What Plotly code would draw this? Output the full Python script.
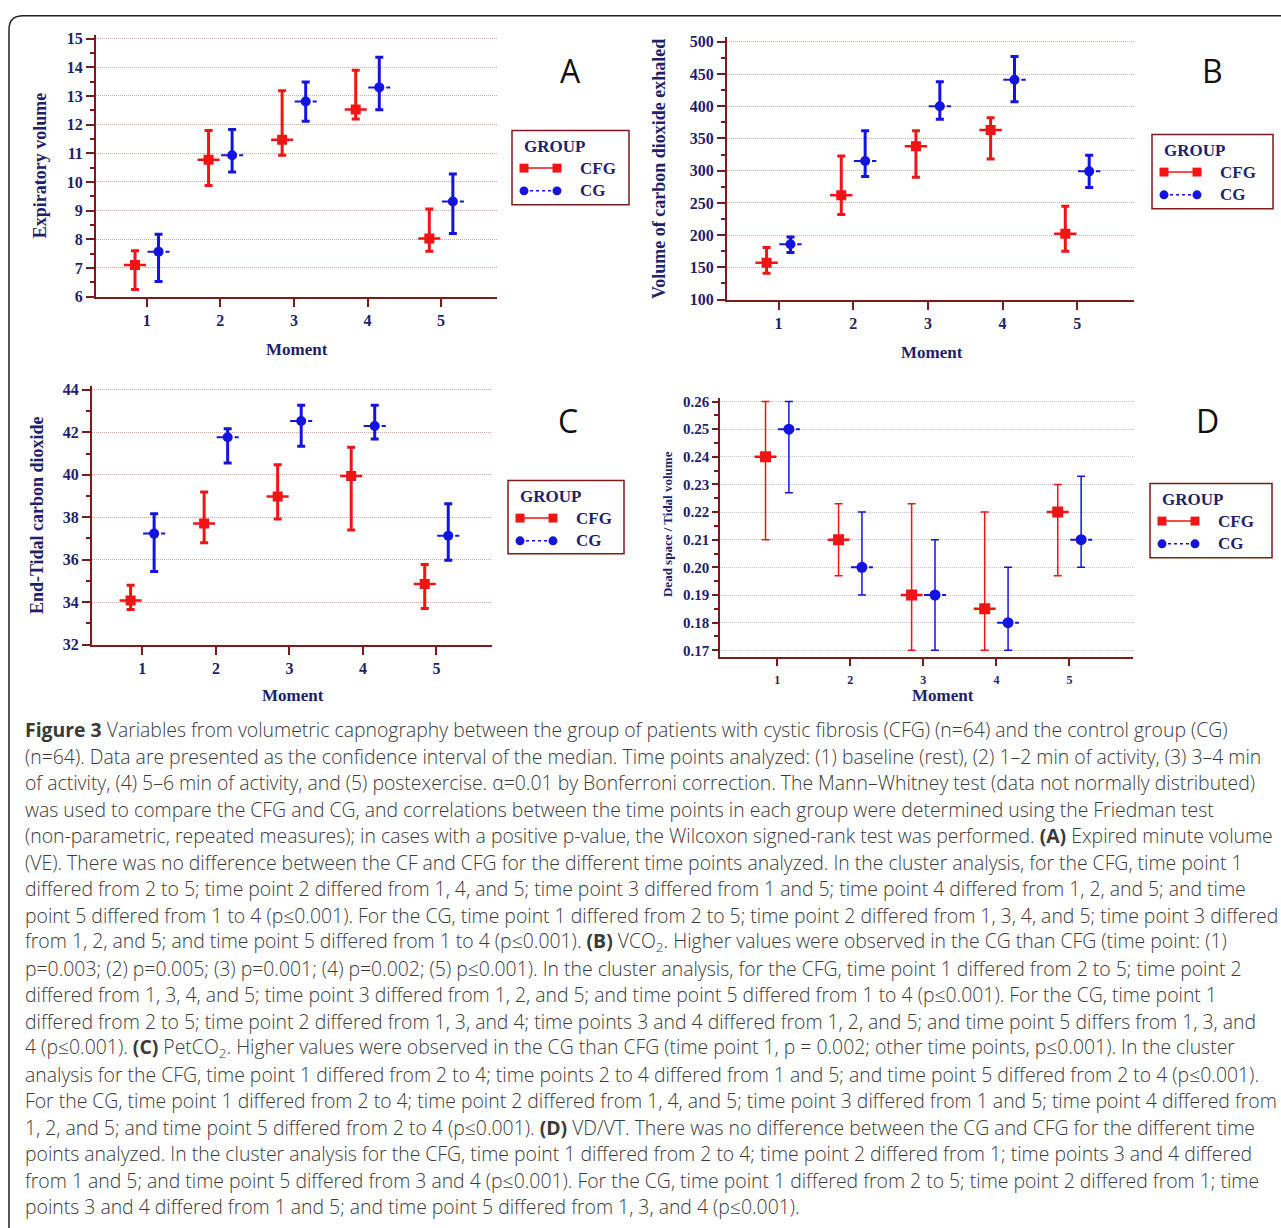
import plotly.graph_objects as go

W, H = 1281, 1228

moments = [1, 2, 3, 4, 5]
tick_labels = ["1", "2", "3", "4", "5"]
group_names = ["CFG", "CG"]

# Panel A - Expiratory volume
a_cfg_med = [7.10, 10.78, 11.47, 12.53, 8.03]
a_cfg_lo = [6.25, 9.88, 10.93, 12.20, 7.58]
a_cfg_hi = [7.60, 11.80, 13.18, 13.90, 9.06]
a_cg_med = [7.57, 10.93, 12.81, 13.30, 9.32]
a_cg_lo = [6.53, 10.35, 12.12, 12.52, 8.20]
a_cg_hi = [8.18, 11.83, 13.49, 14.35, 10.28]

# Panel B - Volume of carbon dioxide exhaled
b_cfg_med = [157, 262, 338, 363, 202]
b_cfg_lo = [141, 232, 290, 318, 175]
b_cfg_hi = [181, 323, 362, 382, 245]
b_cg_med = [186, 315, 400, 441, 299]
b_cg_lo = [173, 291, 380, 407, 274]
b_cg_hi = [197, 362, 438, 477, 324]

# Panel C - End-Tidal carbon dioxide
c_cfg_med = [34.08, 37.70, 38.98, 39.94, 34.86]
c_cfg_lo = [33.66, 36.80, 37.92, 37.40, 33.70]
c_cfg_hi = [34.80, 39.19, 40.47, 41.30, 35.77]
c_cg_med = [37.23, 41.77, 42.53, 42.30, 37.13]
c_cg_lo = [35.44, 40.55, 41.34, 41.69, 35.97]
c_cg_hi = [38.16, 42.17, 43.28, 43.28, 38.63]

# Panel D - Dead space / Tidal volume
d_cfg_med = [0.240, 0.210, 0.190, 0.185, 0.220]
d_cfg_lo = [0.210, 0.197, 0.170, 0.170, 0.197]
d_cfg_hi = [0.260, 0.223, 0.223, 0.220, 0.230]
d_cg_med = [0.250, 0.200, 0.190, 0.180, 0.210]
d_cg_lo = [0.227, 0.190, 0.170, 0.170, 0.200]
d_cg_hi = [0.260, 0.220, 0.210, 0.200, 0.233]

caption_lines = [
    "<b>Figure 3</b> Variables from volumetric capnography between the group of patients with cystic fibrosis (CFG) (n=64) and the control group (CG)",
    "(n=64). Data are presented as the confidence interval of the median. Time points analyzed: (1) baseline (rest), (2) 1–2 min of activity, (3) 3–4 min",
    "of activity, (4) 5–6 min of activity, and (5) postexercise. α=0.01 by Bonferroni correction. The Mann–Whitney test (data not normally distributed)",
    "was used to compare the CFG and CG, and correlations between the time points in each group were determined using the Friedman test",
    "(non-parametric, repeated measures); in cases with a positive p-value, the Wilcoxon signed-rank test was performed. <b>(A)</b> Expired minute volume",
    "(VE). There was no difference between the CF and CFG for the different time points analyzed. In the cluster analysis, for the CFG, time point 1",
    "differed from 2 to 5; time point 2 differed from 1, 4, and 5; time point 3 differed from 1 and 5; time point 4 differed from 1, 2, and 5; and time",
    "point 5 differed from 1 to 4 (p≤0.001). For the CG, time point 1 differed from 2 to 5; time point 2 differed from 1, 3, 4, and 5; time point 3 differed",
    "from 1, 2, and 5; and time point 5 differed from 1 to 4 (p≤0.001). <b>(B)</b> VCO<sub>2</sub>. Higher values were observed in the CG than CFG (time point: (1)",
    "p=0.003; (2) p=0.005; (3) p=0.001; (4) p=0.002; (5) p≤0.001). In the cluster analysis, for the CFG, time point 1 differed from 2 to 5; time point 2",
    "differed from 1, 3, 4, and 5; time point 3 differed from 1, 2, and 5; and time point 5 differed from 1 to 4 (p≤0.001). For the CG, time point 1",
    "differed from 2 to 5; time point 2 differed from 1, 3, and 4; time points 3 and 4 differed from 1, 2, and 5; and time point 5 differs from 1, 3, and",
    "4 (p≤0.001). <b>(C)</b> PetCO<sub>2</sub>. Higher values were observed in the CG than CFG (time point 1, p = 0.002; other time points, p≤0.001). In the cluster",
    "analysis for the CFG, time point 1 differed from 2 to 4; time points 2 to 4 differed from 1 and 5; and time point 5 differed from 2 to 4 (p≤0.001).",
    "For the CG, time point 1 differed from 2 to 4; time point 2 differed from 1, 4, and 5; time point 3 differed from 1 and 5; time point 4 differed from",
    "1, 2, and 5; and time point 5 differed from 2 to 4 (p≤0.001). <b>(D)</b> VD/VT. There was no difference between the CG and CFG for the different time",
    "points analyzed. In the cluster analysis for the CFG, time point 1 differed from 2 to 4; time point 2 differed from 1; time points 3 and 4 differed",
    "from 1 and 5; and time point 5 differed from 3 and 4 (p≤0.001). For the CG, time point 1 differed from 2 to 5; time point 2 differed from 1; time",
    "points 3 and 4 differed from 1 and 5; and time point 5 differed from 1, 3, and 4 (p≤0.001).",
]

RED = "#f01414"
BLUE = "#1414e0"
MAROON = "#7d1a1a"
NAVY = "#1f1f6b"
SERIF = "Liberation Serif"


def px(x):
    return x / W


def py(y):
    return 1 - y / H


panels = [
    dict(name="A", data=(a_cfg_med, a_cfg_lo, a_cfg_hi, a_cg_med, a_cg_lo, a_cg_hi),
         xd=(96, 497), yd=(30, 295), xr=[0.31, 5.76], yr=[6, 15.14], dtick=1, minor=0.5,
         ytitle="Expiratory volume", ytpos=(40, 162), mpos=(297, 348), letter=(570, 66),
         legend=(512, 127, 117, 75), thick=3, xtfs=16, ytfs=16, yfmt=None),
    dict(name="B", data=(b_cfg_med, b_cfg_lo, b_cfg_hi, b_cg_med, b_cg_lo, b_cg_hi),
         xd=(727, 1134), yd=(32, 298), xr=[0.31, 5.76], yr=[100, 508], dtick=50, minor=25,
         ytitle="Volume of carbon dioxide exhaled", ytpos=(659, 166), mpos=(932, 352), letter=(1212, 66),
         legend=(1152, 131, 121, 75), thick=3, xtfs=16, ytfs=16, yfmt=None),
    dict(name="C", data=(c_cfg_med, c_cfg_lo, c_cfg_hi, c_cg_med, c_cg_lo, c_cg_hi),
         xd=(92, 492), yd=(385, 647), xr=[0.315, 5.755], yr=[32, 44.2], dtick=2, minor=1,
         ytitle="End-Tidal carbon dioxide", ytpos=(37, 516), mpos=(293, 698), letter=(568, 420),
         legend=(508, 481, 116, 74), thick=3, xtfs=16, ytfs=16, yfmt=None),
    dict(name="D", data=(d_cfg_med, d_cfg_lo, d_cfg_hi, d_cg_med, d_cg_lo, d_cg_hi),
         xd=(720, 1133), yd=(398, 660), xr=[0.217, 5.87], yr=[0.1674, 0.2611], dtick=0.01, minor=0.005,
         ytitle="Dead space / Tidal volume", ytpos=(667, 525), mpos=(943, 698), letter=(1207, 420),
         legend=(1150, 484, 122, 75), thick=1.5, xtfs=12, ytfs=15, yfmt=".2f"),
]

OFF = 0.16
HALF = 0.15

fig = go.Figure()
shapes = []
annotations = []

for i, p in enumerate(panels):
    k = "" if i == 0 else str(i + 1)
    xa, ya = "x" + k, "y" + k
    isD = p["name"] == "D"
    cfg_med, cfg_lo, cfg_hi, cg_med, cg_lo, cg_hi = p["data"]
    series = [
        (group_names[0], [m - OFF for m in moments], cfg_med, cfg_lo, cfg_hi, RED, "square", "solid", 2.5),
        (group_names[1], [m + OFF for m in moments], cg_med, cg_lo, cg_hi, BLUE, "circle", "dash", 2),
    ]
    for nm, xs, med, lo, hi, col, sym, dash, lw in series:
        # median horizontal strokes
        sx, sy = [], []
        for xv, mv in zip(xs, med):
            sx += [xv - HALF, xv + HALF, None]
            sy += [mv, mv, None]
        fig.add_trace(go.Scatter(x=sx, y=sy, mode="lines", xaxis=xa, yaxis=ya,
                                 line=dict(color=col, width=lw, dash=dash),
                                 showlegend=False, hoverinfo="skip"))
        fig.add_trace(go.Scatter(
            x=xs, y=med, mode="markers", name=nm, xaxis=xa, yaxis=ya, showlegend=False,
            marker=dict(symbol=sym, size=10 if not isD else 11, color=col),
            error_y=dict(type="data", symmetric=False,
                         array=[h - m for h, m in zip(hi, med)],
                         arrayminus=[m - l for m, l in zip(med, lo)],
                         color=col, thickness=p["thick"], width=4),
        ))

    xkey = "xaxis" + k
    ykey = "yaxis" + k
    fig.update_layout(**{
        xkey: dict(domain=[px(p["xd"][0]), px(p["xd"][1])], range=p["xr"], anchor=ya,
                   tickvals=moments, ticktext=tick_labels, showline=True, linecolor=MAROON,
                   linewidth=2, ticks="outside", ticklen=8 if not isD else 7,
                   tickwidth=2 if not isD else 1.5, tickcolor=MAROON,
                   showgrid=False, zeroline=False,
                   ticklabelstandoff=0 if not isD else 3,
                   tickfont=dict(family=SERIF, size=p["xtfs"], color=NAVY, weight="bold")),
        ykey: dict(domain=[py(p["yd"][1]), py(p["yd"][0])], range=p["yr"], anchor=xa,
                   dtick=p["dtick"], tick0=p["yr"][0] if not isD else 0.17,
                   showline=True, linecolor=MAROON, linewidth=2 if not isD else 1.5,
                   ticks="outside", ticklen=8 if not isD else 6,
                   tickwidth=2 if not isD else 1.5, tickcolor=MAROON,
                   tickformat=p["yfmt"],
                   showgrid=True, gridcolor="#e2a4a4" if not isD else "#c4c4c4",
                   griddash="1px,1px", gridwidth=1, zeroline=False,
                   minor=dict(dtick=p["minor"], ticks="outside", ticklen=4, tickcolor=MAROON,
                              tickwidth=1.5, showgrid=False),
                   tickfont=dict(family=SERIF, size=p["ytfs"], color=NAVY, weight="bold")),
    })

    # axis titles
    annotations.append(dict(x=px(p["ytpos"][0]), y=py(p["ytpos"][1]), xref="paper", yref="paper",
                            text="<b>" + p["ytitle"] + "</b>", textangle=-90, showarrow=False,
                            font=dict(family=SERIF, size=18 if not isD else 13, color=NAVY),
                            xanchor="center", yanchor="middle"))
    annotations.append(dict(x=px(p["mpos"][0]), y=py(p["mpos"][1]), xref="paper", yref="paper",
                            text="<b>Moment</b>", showarrow=False,
                            font=dict(family=SERIF, size=17, color=NAVY),
                            xanchor="center", yanchor="middle"))
    annotations.append(dict(x=px(p["letter"][0]), y=py(p["letter"][1]), xref="paper", yref="paper",
                            text=p["name"], showarrow=False,
                            font=dict(family="Open Sans", size=32, color="#111111"),
                            xanchor="center", yanchor="middle"))

    # legend box
    lx, ly, lw_, lh = p["legend"]
    shapes.append(dict(type="rect", xref="paper", yref="paper",
                       x0=px(lx), x1=px(lx + lw_), y0=py(ly + lh), y1=py(ly),
                       line=dict(color=MAROON, width=1.5), fillcolor="rgba(0,0,0,0)"))
    annotations.append(dict(x=px(lx + 10), y=py(ly + 16), xref="paper", yref="paper",
                            text="<b>GROUP</b>", showarrow=False, xanchor="left", yanchor="middle",
                            font=dict(family=SERIF, size=17, color=NAVY)))
    for r, (nm, col, shp, dash) in enumerate([(group_names[0], RED, "rect", "solid"),
                                              (group_names[1], BLUE, "circle", "dot")]):
        ry = ly + 38 + r * 23
        xa0, xa1 = lx + 12, lx + 45
        shapes.append(dict(type="line", xref="paper", yref="paper",
                           x0=px(xa0), x1=px(xa1), y0=py(ry), y1=py(ry),
                           line=dict(color=col, width=1.5, dash=dash)))
        for cx in (xa0, xa1):
            shapes.append(dict(type=shp, xref="paper", yref="paper",
                               x0=px(cx - 4.5), x1=px(cx + 4.5), y0=py(ry + 4.5), y1=py(ry - 4.5),
                               line=dict(color=col, width=0), fillcolor=col))
        annotations.append(dict(x=px(lx + 66), y=py(ry), xref="paper", yref="paper",
                                text="<b>" + nm + "</b>", showarrow=False, xanchor="left",
                                yanchor="middle", font=dict(family=SERIF, size=17, color=NAVY)))

# caption
for i, line in enumerate(caption_lines):
    annotations.append(dict(x=px(23), y=py(733 + i * 26.8), xref="paper", yref="paper",
                            text=line, showarrow=False, xanchor="left", yanchor="middle",
                            font=dict(family="Open Sans", size=19.4, color="#3a3a3a", weight=300)))

# outer frame (top and left edges with rounded corner)
shapes.append(dict(type="path", xref="paper", yref="paper",
                   path=f"M {px(9)},{py(1240)} L {px(9)},{py(25)} Q {px(9)},{py(11)} {px(23)},{py(11)} L {px(1290)},{py(11)}",
                   line=dict(color="#222222", width=1.5)))

fig.update_layout(width=W, height=H, margin=dict(l=0, r=0, t=0, b=0),
                  paper_bgcolor="white", plot_bgcolor="white",
                  shapes=shapes, annotations=annotations, showlegend=False)

fig.write_html("out.html", config={"displayModeBar": False},
               post_script="document.documentElement.style.margin='0';document.body.style.margin='0';document.body.style.padding='0';document.body.style.overflow='hidden';")
